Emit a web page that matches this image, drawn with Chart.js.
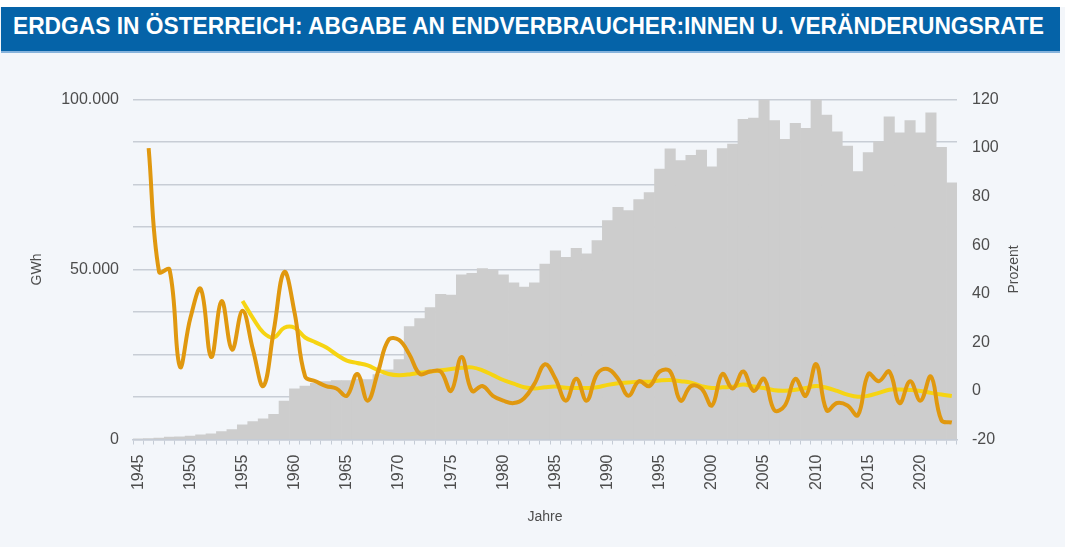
<!DOCTYPE html>
<html>
<head>
<meta charset="utf-8">
<title>Erdgas in Österreich</title>
<script src="https://cdn.jsdelivr.net/npm/chart.js@4/dist/chart.umd.min.js"></script>
<style>
  html, body { margin: 0; padding: 0; }
  body {
    width: 1065px; height: 547px; position: relative; overflow: hidden;
    background: #f3f6fa; font-family: 'Liberation Sans', Arial, sans-serif;
  }
  #strip { position: absolute; left: 0; top: 0; width: 1065px; height: 7px; background: #fff; }
  #head {
    position: absolute; left: 1px; top: 7px; width: 1059px; height: 44px;
    background: #0563a8; border-bottom: 2px solid #86b3dc;
  }
  #head span {
    position: absolute; left: 12px; top: 8px; transform-origin: 0 0;
    color: #fff; font-weight: 700; font-size: 23px; line-height: 1; white-space: nowrap;
    font-family: 'Liberation Sans Narrow', 'Liberation Sans', Arial, sans-serif;
  }
  #chart { position: absolute; left: 0; top: 0; }
</style>
</head>
<body>
<div id="strip"></div>
<div id="head"><span id="headText">ERDGAS IN ÖSTERREICH: ABGABE AN ENDVERBRAUCHER:INNEN U. VERÄNDERUNGSRATE</span></div>
<canvas id="chart" width="1065" height="547"></canvas>
<script>
const years = [
  1945, 1946, 1947, 1948, 1949, 1950, 1951, 1952, 1953, 1954,
  1955, 1956, 1957, 1958, 1959, 1960, 1961, 1962, 1963, 1964,
  1965, 1966, 1967, 1968, 1969, 1970, 1971, 1972, 1973, 1974,
  1975, 1976, 1977, 1978, 1979, 1980, 1981, 1982, 1983, 1984,
  1985, 1986, 1987, 1988, 1989, 1990, 1991, 1992, 1993, 1994,
  1995, 1996, 1997, 1998, 1999, 2000, 2001, 2002, 2003, 2004,
  2005, 2006, 2007, 2008, 2009, 2010, 2011, 2012, 2013, 2014,
  2015, 2016, 2017, 2018, 2019, 2020, 2021, 2022, 2023
];

// Abgabe an Endverbraucher:innen, GWh
const abgabe = [
  150, 300, 450, 700, 800, 1000, 1400, 1700, 2300, 2900,
  4300, 5300, 6100, 7400, 11300, 14900, 15700, 16500, 17000, 17300,
  17300, 17800, 17600, 19100, 20500, 23500, 33200, 35600, 38800, 42700,
  42500, 48400, 48900, 50300, 49900, 48400, 46100, 44800, 46100, 51600,
  55500, 53600, 56200, 54600, 58500, 64400, 68300, 67300, 70600, 72600,
  79500, 85500, 82000, 83600, 85100, 80200, 85600, 86900, 94200, 94500,
  100000, 93800, 88300, 93000, 91500, 100000, 95400, 90500, 86300, 78800,
  84400, 87600, 94900, 90200, 93800, 90200, 96100, 85900, 75500
];

// Veränderungsrate gegenüber Vorjahr, Prozent
const rate = [
  null, 100, 49, 50, 10, 30, 42, 14, 37, 17,
  33, 17, 2, 25, 49, 32, 6, 4, 2, 1,
  -2, 7, -4, 8, 21, 21, 15, 7, 8, 8,
  0, 14, 0, 2, -2, -4, -5, -3, 3, 11,
  5, -4, 5, -4, 7, 9, 5, -2, 4, 2,
  8, 8, -4, 2, 1, -6, 7, 1, 8, 0,
  5, -8, -6, 5, -2, 11, -8, -5, -6, -10,
  7, 4, 8, -5, 4, -4, 6, -12, -13
];

// geglättete Veränderungsrate, Prozent
const trend = [
  null, null, null, null, null, null, null, null, null, null,
  37, 30, 24, 22, 26, 26, 22, 20, 18, 15,
  12.5, 11.5, 10.5, 8.5, 7, 6.5, 6.8, 7.5, 8, 8.5,
  9, 9.5, 9.7, 8.5, 6.5, 4.5, 3, 1.5, 1, 1.5,
  1.8, 1.3, 1.2, 1.2, 1.5, 2.5, 3.2, 3.5, 3.8, 3.8,
  4.3, 4.5, 4, 3.4, 2, 1.2, 1.5, 1.7, 2.6, 1.8,
  1.2, 0.3, 0.1, 0.5, 1.2, 2, 1.3, 0, -1.5, -2.4,
  -2, -0.8, 0.5, 0.6, 0.4, 0, -0.8, -1.5, -2.1
];

const textColor = '#4d4d4d';
const gridColor = '#c8cdd5';

// header text squeezed to the width of the original banner
const head = document.getElementById('headText');
const k = 1031 / head.getBoundingClientRect().width;
head.style.transform = 'scaleX(' + k + ')';

function dots(n) {
  return String(n).replace(/\B(?=(\d{3})+(?!\d))/g, '.');
}

// right axis title reads upward like the left one
const rightTitle = {
  id: 'rightTitle',
  afterDraw(chart) {
    const { ctx, chartArea } = chart;
    ctx.save();
    ctx.translate(1014, (chartArea.top + chartArea.bottom) / 2);
    ctx.rotate(-Math.PI / 2);
    ctx.font = '14px "Liberation Sans", Arial, sans-serif';
    ctx.fillStyle = textColor;
    ctx.textAlign = 'center';
    ctx.textBaseline = 'middle';
    ctx.fillText('Prozent', 0, 0);
    ctx.restore();
  }
};

Chart.defaults.font.family = "'Liberation Sans', Arial, sans-serif";
Chart.defaults.color = textColor;

const ctx = document.getElementById('chart').getContext('2d');
new Chart(ctx, {
  type: 'bar',
  data: {
    labels: years,
    datasets: [
      {
        type: 'line',
        label: 'Veränderungsrate',
        data: rate,
        yAxisID: 'y2',
        borderColor: '#e0980f',
        borderWidth: 4,
        pointRadius: 0,
        tension: 0.4,
        order: 1,
      },
      {
        type: 'line',
        label: 'Trend',
        data: trend,
        yAxisID: 'y2',
        borderColor: '#f6d412',
        borderWidth: 4,
        pointRadius: 0,
        tension: 0.4,
        order: 2,
      },
      {
        label: 'Abgabe an Endverbraucher:innen',
        data: abgabe,
        yAxisID: 'y',
        backgroundColor: '#cdcdcd',
        borderWidth: 0,
        barPercentage: 1,
        categoryPercentage: 1,
        order: 3,
      },
    ],
  },
  options: {
    responsive: false,
    animation: false,
    devicePixelRatio: 1,
    layout: {
      padding: { top: 99.5, left: 25, right: 0, bottom: 17 },
    },
    scales: {
      x: {
        grid: {
          drawOnChartArea: false,
          drawTicks: true,
          tickLength: 5,
          color: '#c5ccd6',
        },
        border: { color: '#c5ccd6', width: 1.5 },
        ticks: {
          autoSkip: false,
          maxRotation: 90,
          minRotation: 90,
          padding: 10,
          font: { size: 16 },
          callback: (v, i) => (years[i] % 5 === 0 ? String(years[i]) : ''),
        },
        title: {
          display: true,
          text: 'Jahre',
          font: { size: 14 },
          padding: { top: 4, bottom: 4 },
        },
        afterFit: (scale) => { scale.height = 90.5; },
      },
      y: {
        position: 'left',
        min: 0,
        max: 100000,
        grid: { color: gridColor, lineWidth: 1.5, drawTicks: false },
        border: { display: false },
        ticks: {
          stepSize: 12500,
          padding: 14,
          font: { size: 16 },
          callback: (v) => (v % 50000 === 0 ? dots(v) : ''),
        },
        title: {
          display: true,
          text: 'GWh',
          font: { size: 14 },
          padding: { top: 4, bottom: 4 },
        },
        afterFit: (scale) => { scale.width = 108; },
      },
      y2: {
        position: 'right',
        min: -20,
        max: 120,
        grid: { display: false, drawTicks: false },
        border: { display: false },
        ticks: {
          stepSize: 20,
          padding: 15,
          font: { size: 16 },
        },
        afterFit: (scale) => { scale.width = 108; },
      },
    },
    plugins: {
      legend: { display: false },
      tooltip: { enabled: false },
    },
  },
  plugins: [rightTitle],
});
</script>
</body>
</html>
